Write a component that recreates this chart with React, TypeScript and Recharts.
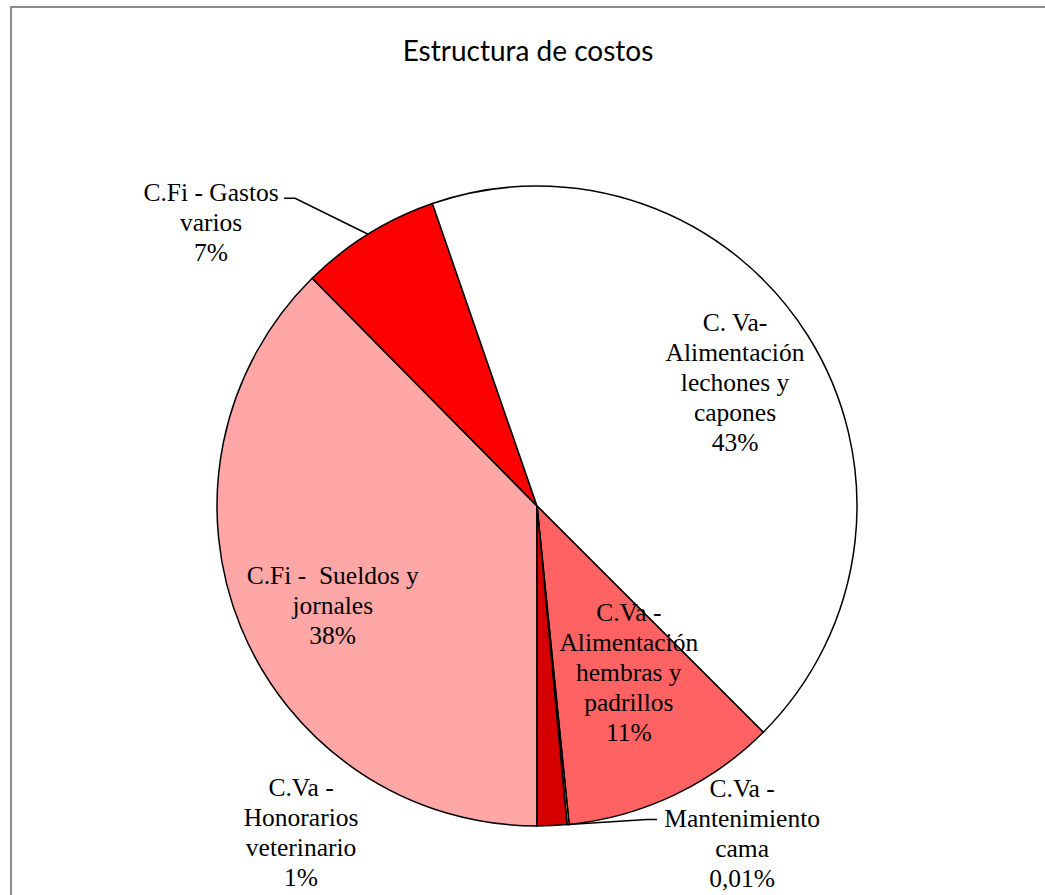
import React from "react";
import { PieChart, Pie, Cell } from "recharts";

const categories = [
  ["C.Fi -  Sueldos y", "jornales"],
  ["C.Fi - Gastos", "varios"],
  ["C. Va-", "Alimentación", "lechones y", "capones"],
  ["C.Va -", "Alimentación", "hembras y", "padrillos"],
  ["C.Va -", "Mantenimiento", "cama"],
  ["C.Va -", "Honorarios", "veterinario"],
];
const values = [37.6, 7.1, 42.8, 10.9, 0.1, 1.5];
const percentLabels = ["38%", "7%", "43%", "11%", "0,01%", "1%"];
const colors = ["#FFA6A6", "#FF0000", "#FFFFFF", "#FF6262", "#FFFF00", "#D60000"];

type LabelLayout =
  | { kind: "inside"; r: number; dx: number; dy: number }
  | { kind: "outside"; dx: number; dy: number; leader: [number, number][] };

const labelLayouts: LabelLayout[] = [
  { kind: "inside", r: 0.69, dx: 0, dy: 15 },
  { kind: "outside", dx: -157, dy: -12, leader: [[-73, -36], [-84, -36]] },
  { kind: "inside", r: 0.73, dx: 0, dy: 0 },
  { kind: "inside", r: 0.56, dx: 15, dy: 4 },
  { kind: "outside", dx: 174, dy: 8.5, leader: [[79, -5], [89, -5]] },
  { kind: "outside", dx: -251, dy: 6, leader: [] },
];

const data = values.map((v, i) => ({ name: categories[i].join(" "), value: v }));

const RAD = Math.PI / 180;
const LINE_H = 30;

function renderLabel(props: any) {
  const { cx, cy, midAngle, outerRadius, index } = props;
  const layout = labelLayouts[index];
  const cos = Math.cos(-midAngle * RAD);
  const sin = Math.sin(-midAngle * RAD);
  let x: number, y: number;
  let leader: React.ReactNode = null;
  if (layout.kind === "inside") {
    const r = outerRadius * layout.r;
    x = cx + r * cos + layout.dx;
    y = cy + r * sin + layout.dy;
  } else {
    const rx = cx + outerRadius * cos;
    const ry = cy + outerRadius * sin;
    x = rx + layout.dx;
    y = ry + layout.dy;
    if (layout.leader.length) {
      const pts = [[rx, ry], ...layout.leader.map(([a, b]) => [rx + a, ry + b])]
        .map((p) => p.join(","))
        .join(" ");
      leader = <polyline points={pts} fill="none" stroke="#000" strokeWidth={1.5} />;
    }
  }
  const lines = [...categories[index], percentLabels[index]];
  const n = lines.length;
  return (
    <g key={`lbl-${index}`}>
      {leader}
      <text
        x={x}
        y={y}
        textAnchor="middle"
        fill="#000"
        style={{ fontFamily: "'Liberation Serif', 'Times New Roman', serif", fontSize: 25.5 }}
      >
        {lines.map((t, i) => (
          <tspan key={i} x={x} y={y + (i - (n - 1) / 2) * LINE_H} dy="0.35em" xmlSpace="preserve">
            {t}
          </tspan>
        ))}
      </text>
    </g>
  );
}

export default function App() {
  return (
    <div
      style={{
        position: "absolute",
        left: 0,
        top: 0,
        width: 1045,
        height: 895,
        overflow: "hidden",
        background: "#fff",
      }}
    >
      <div
        style={{
          position: "absolute",
          left: 10,
          top: 6,
          width: 1100,
          height: 1000,
          border: "2px solid #8c8c8c",
          boxSizing: "border-box",
        }}
      />
      <div
        style={{
          position: "absolute",
          left: 0,
          top: 33,
          width: 1056,
          textAlign: "center",
          fontFamily: "Lato, 'Open Sans', sans-serif",
          fontSize: 28,
          lineHeight: "34px",
          color: "#000",
        }}
      >
        Estructura de costos
      </div>
      <div style={{ position: "absolute", left: 0, top: 0 }}>
        <PieChart width={1045} height={895} margin={{ top: 0, right: 0, bottom: 0, left: 0 }}>
          <Pie
            data={data}
            dataKey="value"
            nameKey="name"
            cx={537}
            cy={506}
            outerRadius={320}
            innerRadius={0}
            startAngle={-90}
            endAngle={-450}
            stroke="#000"
            strokeWidth={1.5}
            label={renderLabel}
            labelLine={false}
            isAnimationActive={false}
          >
            {data.map((d, i) => (
              <Cell key={d.name + i} fill={colors[i]} stroke="#000" strokeWidth={1.5} />
            ))}
          </Pie>
        </PieChart>
      </div>
    </div>
  );
}
